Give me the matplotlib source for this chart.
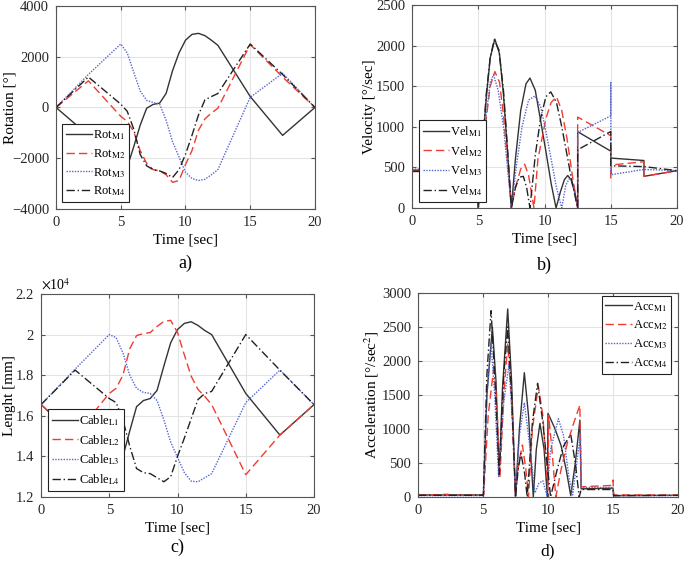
import matplotlib.pyplot as plt
from matplotlib.ticker import FuncFormatter

plt.rcParams['font.family'] = ['Liberation Serif', 'DejaVu Serif']
plt.rcParams['mathtext.fontset'] = 'stix'

# ---- a) rotation [deg]
t_rot = [0, 2.5, 5, 5.5, 6, 6.5, 7, 7.5, 8, 8.5, 9, 9.5, 10, 10.5, 11, 11.5, 12, 12.5, 15, 17.5, 20]
rot_m1 = [0, -1100, -2400, -2350, -1550, -700, -30, 120, 170, 550, 1450, 2150, 2650, 2880, 2920, 2830, 2650, 2450, 430, -1100, 0]
rot_m2 = [0, 1050, -350, -550, -950, -1700, -2200, -2450, -2500, -2650, -2950, -2880, -2250, -1700, -900, -450, -220, -30, 2480, 1200, 0]
rot_m3 = [0, 1300, 2500, 2150, 1390, 650, 280, 196, 133, -500, -1350, -1950, -2550, -2800, -2880, -2830, -2650, -2450, 400, 1350, 0]
rot_m4 = [0, 1200, 130, -150, -850, -1850, -2300, -2450, -2500, -2600, -2760, -2450, -1850, -1100, -300, 300, 430, 550, 2500, 1300, 0]

# ---- c) cable length [mm]
t_cab = t_rot
cab_l1 = [16550, 15000, 13450, 13400, 14000, 15250, 16450, 16750, 16850, 17250, 18450, 19600, 20250, 20550, 20630, 20450, 20200, 20000, 17100, 15050, 16550]
cab_l2 = [16550, 15050, 17100, 17350, 18000, 19300, 19950, 20050, 20100, 20400, 20650, 20700, 20100, 19000, 17950, 17300, 16950, 16550, 13100, 15050, 16550]
cab_l3 = [16550, 18300, 20000, 19850, 19100, 18000, 17350, 17150, 17100, 16750, 15800, 14700, 13950, 13200, 12780, 12750, 12950, 13150, 16650, 18250, 16550]
cab_l4 = [16550, 18250, 16850, 16650, 15800, 14500, 13400, 13200, 13150, 12950, 12750, 13000, 14000, 14900, 15850, 16800, 17100, 17200, 20000, 18250, 16550]

# ---- b) velocity [deg/sec]
t_v1 = [0, 4.95, 5.0, 5.3, 5.6, 5.9, 6.25, 6.6, 6.9, 7.2, 7.5, 7.8, 8.2, 8.6, 8.9, 9.3, 9.7, 10.1, 10.5, 10.87,
        11.2, 11.5, 11.75, 12.0, 12.3, 12.5, 12.5, 15, 15, 17.5, 17.5, 20]
vel_m1 = [460, 460, 0, 700, 1350, 1850, 2080, 1900, 1400, 700, 0, 600, 1200, 1530, 1600, 1450, 1080, 700, 300, 0,
          200, 350, 400, 350, 180, 0, 940, 700, 615, 585, 390, 460]
t_v2 = [0, 4.95, 5.0, 5.3, 5.6, 5.9, 6.25, 6.6, 6.9, 7.2, 7.5, 7.8, 8.2, 8.5, 8.8, 9.2, 9.5, 9.8, 10.1, 10.5, 10.9,
        11.3, 11.7, 12.1, 12.5, 12.5, 15, 15, 15.05, 17.5, 17.5, 20]
vel_m2 = [470, 470, 0, 550, 1100, 1500, 1680, 1550, 1150, 580, 0, 250, 480, 540, 400, 0, 600, 850, 1100, 1300, 1370,
          1200, 850, 400, 0, 1120, 890, 370, 530, 570, 390, 460]
t_v3 = [0, 4.95, 5.0, 5.3, 5.6, 5.9, 6.15, 6.5, 6.9, 7.2, 7.5, 7.9, 8.3, 8.8, 9.28, 9.7, 10.1, 10.5, 10.9, 11.3,
        11.6, 11.9, 12.2, 12.5, 12.5, 15, 15, 15, 17.5, 20]
vel_m3 = [480, 480, 0, 600, 1150, 1550, 1640, 1450, 1000, 500, 0, 550, 1000, 1330, 1380, 1250, 950, 600, 250, 0,
          280, 370, 280, 0, 930, 1135, 1545, 410, 475, 460]
t_v4 = [0, 4.95, 5.0, 5.3, 5.6, 5.9, 6.2, 6.55, 6.9, 7.2, 7.5, 7.8, 8.1, 8.4, 8.65, 8.9, 9.3, 9.7, 10.1, 10.47,
        10.9, 11.3, 11.7, 12.1, 12.5, 12.5, 15, 15, 17.5, 20]
vel_m4 = [450, 450, 0, 720, 1400, 1850, 2070, 1950, 1450, 750, 0, 250, 380, 390, 250, 0, 650, 1100, 1370, 1430,
          1300, 1000, 650, 300, 0, 717, 942, 520, 510, 460]

# ---- d) acceleration [deg/sec^2]
t_a1 = [0, 5.0, 5.03, 5.3, 5.72, 6.0, 6.25, 6.5, 6.9, 7.2, 7.5, 7.8, 8.18, 8.5, 8.87, 9.1, 9.38, 9.7, 9.95, 10.0,
        10.5, 11.0, 11.4, 11.75, 12.1, 12.45, 12.55, 15, 15.05, 20]
acc_m1 = [30, 30, 30, 1500, 2495, 1700, 350, 1600, 2765, 1700, 0, 1000, 1828, 1200, 0, 700, 1083, 700, 0, 1230,
          1020, 760, 400, 20, 500, 1130, 120, 130, 20, 25]
t_a2 = [0, 2.3, 2.5, 5.0, 5.05, 5.4, 5.87, 6.1, 6.3, 6.6, 6.9, 7.2, 7.5, 7.75, 8.03, 8.3, 8.5, 8.8, 9.26, 9.6, 10.0,
        10.05, 10.3, 10.6, 11.0, 11.5, 12.0, 12.45, 12.55, 14.9, 15.0, 15.05, 17.5, 20]
acc_m2 = [25, 40, 25, 25, 30, 1200, 1966, 1200, 290, 1500, 2250, 1400, 0, 500, 765, 400, 0, 1000, 1632, 1200, 100,
          1200, 700, 0, 400, 800, 1100, 1350, 150, 170, 250, 30, 30, 25]
t_a3 = [0, 5.0, 5.05, 5.3, 5.62, 5.9, 6.2, 6.6, 7.0, 7.3, 7.5, 7.8, 8.18, 8.5, 9.0, 9.3, 9.6, 9.9, 10.2, 10.8,
        11.2, 11.6, 11.9, 12.2, 12.5, 12.55, 15, 15.05, 20]
acc_m3 = [20, 20, 30, 1500, 2260, 1500, 300, 1400, 1950, 1000, 0, 900, 1387, 900, 60, 200, 240, 30, 700, 1150,
          900, 300, 30, 500, 900, 140, 140, 20, 20]
t_a4 = [0, 5.0, 5.03, 5.3, 5.62, 5.9, 6.25, 6.6, 6.9, 7.2, 7.5, 7.7, 7.92, 8.2, 8.4, 8.8, 9.2, 9.6, 10.2, 10.7,
        11.2, 11.75, 12.1, 12.4, 12.55, 15, 15.05, 20]
acc_m4 = [25, 25, 30, 1800, 2740, 1800, 330, 1800, 2500, 1500, 0, 400, 642, 350, 0, 1100, 1672, 1100, 0, 400,
          750, 920, 500, 0, 110, 110, 20, 25]

styles = [dict(color='#333333', ls='-'),
          dict(color='#f03c32', ls=(0, (6, 3))),
          dict(color='#5566d0', ls=(0, (1, 1))),
          dict(color='#222222', ls=(0, (6, 2, 1, 2)))]


def style_axes(ax, ylim, yticks, ylabel, ylab_x):
    ax.set_xlim(0, 20)
    ax.set_xticks([0, 5, 10, 15, 20])
    ax.set_ylim(*ylim)
    ax.set_yticks(yticks)
    ax.grid(True, color='#e3e3e3', lw=0.8)
    ax.set_axisbelow(True)
    for s in ax.spines.values():
        s.set_color('#555555')
        s.set_linewidth(0.8)
    ax.tick_params(direction='in', length=3, labelsize=10.5, colors='#262626',
                   top=True, right=True, color='#555555', pad=5)
    ax.set_xlabel('Time [sec]', fontsize=11, labelpad=3)
    ax.set_ylabel(ylabel, fontsize=11)
    ax.yaxis.set_label_coords(ylab_x, 0.5)


def add_legend(ax, labels, loc, anchor):
    leg = ax.legend(labels, loc=loc, bbox_to_anchor=anchor, fontsize=9, fancybox=False,
                    edgecolor='#222222', framealpha=1, handlelength=2.1, labelspacing=0.4,
                    borderaxespad=0, borderpad=0.3, handletextpad=0.1)
    leg.get_frame().set_linewidth(0.8)


fig = plt.figure(figsize=(6.85, 5.61), dpi=100)

# a) rotation
ax = fig.add_axes([0.0818, 0.6275, 0.378, 0.3619])
for y, st in zip([rot_m1, rot_m2, rot_m3, rot_m4], styles):
    ax.plot(t_rot, y, lw=1.0, **st)
style_axes(ax, (-4000, 4000), [-4000, -2000, 0, 2000, 4000], 'Rotation [°]', -0.154)
add_legend(ax, ['Rot$_{\\mathrm{M1}}$', 'Rot$_{\\mathrm{M2}}$', 'Rot$_{\\mathrm{M3}}$', 'Rot$_{\\mathrm{M4}}$'],
           'lower left', (0.023, 0.034))
ax.text(0.5, -0.27, 'a)', transform=ax.transAxes, ha='center', va='center', fontsize=13)

# b) velocity
ax = fig.add_axes([0.6015, 0.6292, 0.3869, 0.3619])
for tt, y, st in zip([t_v1, t_v2, t_v3, t_v4], [vel_m1, vel_m2, vel_m3, vel_m4], styles):
    ax.plot(tt, y, lw=1.0, **st)
style_axes(ax, (0, 2500), [0, 500, 1000, 1500, 2000, 2500], 'Velocity [°/sec]', -0.136)
add_legend(ax, ['Vel$_{\\mathrm{M1}}$', 'Vel$_{\\mathrm{M2}}$', 'Vel$_{\\mathrm{M3}}$', 'Vel$_{\\mathrm{M4}}$'],
           'lower left', (0.026, 0.03))
ax.text(0.5, -0.28, 'b)', transform=ax.transAxes, ha='center', va='center', fontsize=13)

# c) cable length
ax = fig.add_axes([0.0599, 0.1141, 0.3985, 0.3619])
for y, st in zip([cab_l1, cab_l2, cab_l3, cab_l4], styles):
    ax.plot(t_cab, y, lw=1.0, **st)
style_axes(ax, (12000, 22000), [12000, 14000, 16000, 18000, 20000, 22000], 'Lenght [mm]', -0.092)
ax.yaxis.set_major_formatter(FuncFormatter(lambda v, p: '%g' % (v / 1e4)))
ax.text(0.0, 1.005, '$\\times$10$^4$', transform=ax.transAxes, ha='left', va='bottom', fontsize=10)
add_legend(ax, ['Cable$_{\\mathrm{L1}}$', 'Cable$_{\\mathrm{L2}}$', 'Cable$_{\\mathrm{L3}}$', 'Cable$_{\\mathrm{L4}}$'],
           'lower left', (0.026, 0.03))
ax.text(0.5, -0.25, 'c)', transform=ax.transAxes, ha='center', va='center', fontsize=13)

# d) acceleration
ax = fig.add_axes([0.6102, 0.1141, 0.3796, 0.3636])
for tt, y, st in zip([t_a1, t_a2, t_a3, t_a4], [acc_m1, acc_m2, acc_m3, acc_m4], styles):
    ax.plot(tt, y, lw=1.0, **st)
style_axes(ax, (0, 3000), [0, 500, 1000, 1500, 2000, 2500, 3000], 'Acceleration [°/sec$^2$]', -0.142)
add_legend(ax, ['Acc$_{\\mathrm{M1}}$', 'Acc$_{\\mathrm{M2}}$', 'Acc$_{\\mathrm{M3}}$', 'Acc$_{\\mathrm{M4}}$'],
           'upper right', (0.973, 0.985))
ax.text(0.5, -0.265, 'd)', transform=ax.transAxes, ha='center', va='center', fontsize=12.5)

fig.savefig('out.png', dpi=100, facecolor='white')
